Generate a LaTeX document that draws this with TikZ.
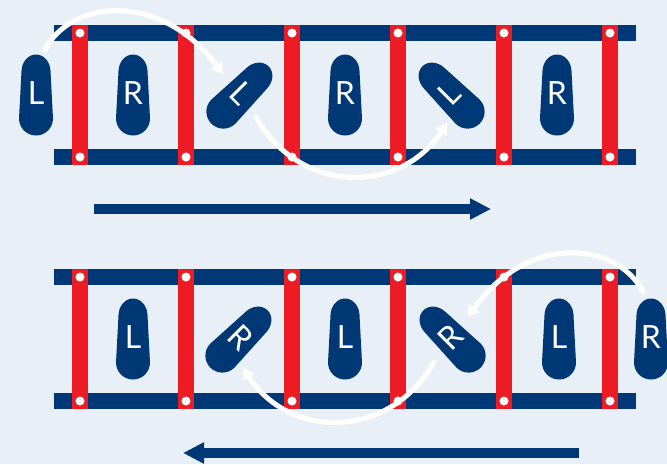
\documentclass[tikz,border=0pt]{standalone}
\usepackage{fontspec}
\setmainfont{Lato}
\usetikzlibrary{arrows.meta}
\definecolor{navy}{HTML}{003876}
\definecolor{ladred}{HTML}{ED1C24}
\definecolor{snow}{HTML}{E9EFF6}
\tikzset{
  rail/.style={fill=navy},
  rung/.style={fill=ladred},
  pin/.style={fill=white},
  letter/.style={text=white, font=\fontsize{32}{32}\selectfont, inner sep=0pt, transform shape},
  foot/.pic={
    \fill[navy] (0pt,-40.5pt) .. controls (9.4pt,-40.5pt) and (17pt,-32.9pt) .. (17pt,-23.5pt)
      -- (14.5pt,24pt)
      .. controls (14.2pt,33pt) and (8pt,40.5pt) .. (0pt,40.5pt)
      .. controls (-8pt,40.5pt) and (-14.2pt,33pt) .. (-14.5pt,24pt)
      -- (-17pt,-23.5pt)
      .. controls (-17pt,-32.9pt) and (-9.4pt,-40.5pt) .. (0pt,-40.5pt) -- cycle;
    \node[letter] (-t) at (0pt,2pt) {#1};
  },
  stepline/.style={white, line width=5pt, line cap=round, -{Triangle[length=11pt,width=13pt]}},
  dirarrow/.style={navy, line width=10pt, -{Triangle[length=21pt,width=20pt]}},
}
\begin{document}
\begin{tikzpicture}[x=1pt,y=-1pt]
\useasboundingbox (0,0) rectangle (667,464);
\clip (0,0) rectangle (667,464);
\fill[snow] (0,0) rectangle (667,464);
% ladders
\foreach \y in {25,269} {
  \fill[rail] (54,\y) rectangle (636,\y+16);
  \fill[rail] (54,\y+124) rectangle (636,\y+140);
  \foreach \x in {80,186,...,610} {
    \fill[rung] (\x-8,\y) rectangle (\x+8,\y+140);
    \fill[pin] (\x,\y+8) circle (4.5pt);
    \fill[pin] (\x,\y+132) circle (4.5pt);
  }
}
% footprints, top
\pic (L1) at (36,95) {foot=L};
\pic (R1) at (133,95) {foot=R};
\pic[rotate=-45] (L2) at (240,95) {foot=L};
\pic (R2) at (345,95) {foot=R};
\pic[rotate=45] (L3) at (451,95) {foot=L};
\pic (R3) at (557,95) {foot=R};
% footprints, bottom
\pic (L4) at (133,339) {foot=L};
\pic[rotate=-45] (R4) at (239,339) {foot=R};
\pic (L5) at (345,339) {foot=L};
\pic[rotate=45] (R5) at (452,339) {foot=R};
\pic (L6) at (559,339) {foot=L};
\pic (R6) at (651,339) {foot=R};
% step curves
\coordinate (s1) at (45,50);   \coordinate (e1) at (223,74);
\coordinate (s2) at (256,117); \coordinate (e2) at (447,123);
\coordinate (s3) at (643,292); \coordinate (e3) at (468,317);
\coordinate (s4) at (434,362); \coordinate (e4) at (243,368);
\draw[stepline] (s1) .. controls (70,0) and (160,-10) .. (e1);
\draw[stepline] (s2) .. controls (300,195) and (400,195) .. (e2);
\draw[stepline] (s3) .. controls (618,242) and (528,232) .. (e3);
\draw[stepline] (s4) .. controls (390,440) and (290,440) .. (e4);
% direction arrows
\coordinate (d1a) at (94,209);  \coordinate (d1b) at (491,209);
\coordinate (d2a) at (579,453); \coordinate (d2b) at (183,453);
\draw[dirarrow] (d1a) -- (d1b);
\draw[dirarrow] (d2a) -- (d2b);
\end{tikzpicture}
\end{document}
